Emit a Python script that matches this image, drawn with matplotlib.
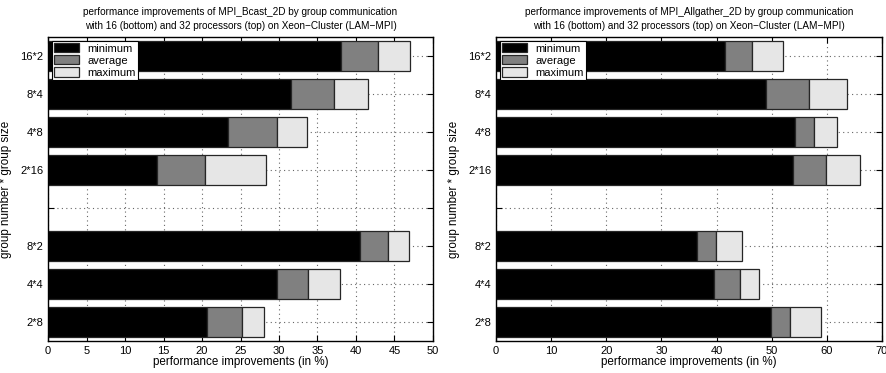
import numpy as np
import matplotlib.pyplot as plt

plt.rcParams['font.family'] = ['Liberation Sans', 'DejaVu Sans']

# y slot 4 is left empty to split 16 procs (bottom) from 32 procs (top)
labels = ['2*8', '4*4', '8*2', '', '2*16', '4*8', '8*4', '16*2']
ypos = [1, 2, 3, 5, 6, 7, 8]

bcast_min = [20.6, 29.7, 40.5, 14.1, 23.4, 31.6, 38.0]
bcast_avg = [25.2, 33.8, 44.2, 20.4, 29.8, 37.1, 42.8]
bcast_max = [28.1, 37.9, 46.9, 28.3, 33.7, 41.6, 47.0]

allg_min = [49.8, 39.6, 36.5, 53.8, 54.3, 49.0, 41.5]
allg_avg = [53.4, 44.2, 39.9, 59.9, 57.6, 56.7, 46.4]
allg_max = [58.9, 47.7, 44.7, 66.0, 61.8, 63.7, 52.0]

fig = plt.figure(figsize=(8.86, 3.73), dpi=100)


def panel(rect, name, mn, av, mx, xmax, xstep):
    ax = fig.add_axes(rect)
    mn, av, mx = np.array(mn), np.array(av), np.array(mx)
    ax.grid(True, linestyle=(0, (1, 3)), color='0.4', linewidth=0.8)
    ax.set_axisbelow(True)
    kw = dict(height=0.8, edgecolor='0.15', linewidth=0.9)
    ax.barh(ypos, mn, color='black', label='minimum', **kw)
    ax.barh(ypos, av - mn, left=mn, color='0.5', label='average', **kw)
    ax.barh(ypos, mx - av, left=av, color='0.9', label='maximum', **kw)
    ax.set_xlim(0, xmax)
    ax.set_ylim(0.5, 8.5)
    ax.set_xticks(np.arange(0, xmax + 1, xstep))
    ax.set_yticks(range(1, 9))
    ax.set_yticklabels(labels)
    ax.tick_params(direction='in', top=True, right=True, labelsize=8, length=4)
    for s in ax.spines.values():
        s.set_linewidth(1.0)
    ax.set_xlabel('performance improvements (in %)', fontsize=8.4, labelpad=0)
    ax.set_ylabel('group number * group size', fontsize=8.4, labelpad=6)
    ax.set_title('performance improvements of ' + name + ' by group communication\n'
                 'with 16 (bottom) and 32 processors (top) on Xeon\u2212Cluster (LAM\u2212MPI)',
                 fontsize=7.2, pad=6, linespacing=1.5)
    leg = ax.legend(loc='upper left', fontsize=8, fancybox=False, framealpha=1,
                    edgecolor='black', borderaxespad=0.35, handlelength=2.2,
                    handleheight=0.9, labelspacing=0.15, borderpad=0.2)
    leg.get_frame().set_linewidth(0.8)
    return ax


panel([0.0542, 0.0858, 0.4345, 0.815], 'MPI_Bcast_2D',
      bcast_min, bcast_avg, bcast_max, 50, 5)
panel([0.5598, 0.0858, 0.4357, 0.815], 'MPI_Allgather_2D',
      allg_min, allg_avg, allg_max, 70, 10)

fig.savefig('out.png', dpi=100)
